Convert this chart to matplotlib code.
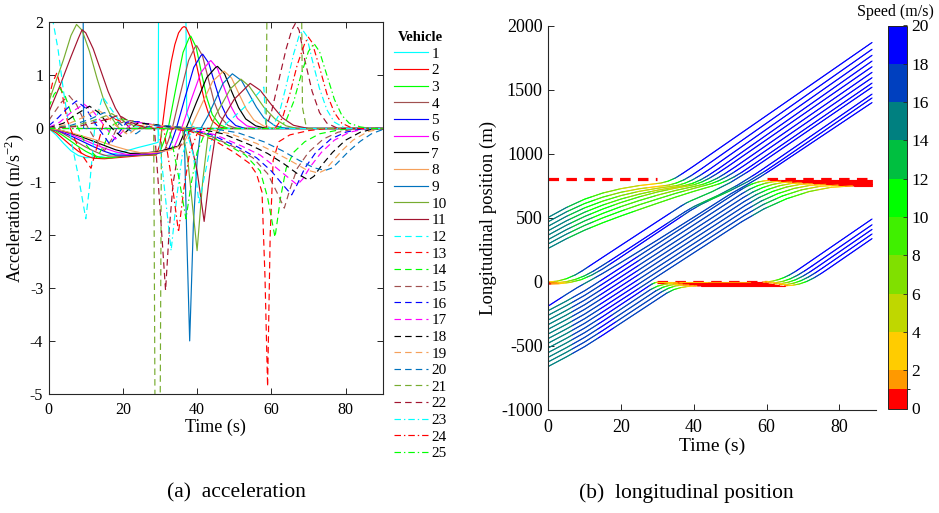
import numpy as np
import matplotlib
matplotlib.use("Agg")
import matplotlib.pyplot as plt
from matplotlib.collections import LineCollection
from matplotlib.colors import ListedColormap, BoundaryNorm
import matplotlib.colorbar as mcolorbar

plt.rcParams['font.family'] = ['Liberation Serif', 'DejaVu Serif']
plt.rcParams['mathtext.fontset'] = 'custom'
plt.rcParams['mathtext.rm'] = 'Liberation Serif'
plt.rcParams['axes.unicode_minus'] = False

# ---------------- (a) acceleration data: time (s) / acceleration (m/s^2) ----------------
a01_t = [0, 2, 4, 6, 8, 10, 13, 16, 20, 24, 28, 29.5, 29.6, 37.0, 37.2, 38.5, 40, 90]
a01_v = [0, -0.12, -0.28, -0.42, -0.51, -0.55, -0.54, -0.5, -0.44, -0.36, -0.29, -0.26, 2, 2, 0.3, 0.05, 0, 0]
a02_t = [0, 2, 4, 6, 8, 10, 12, 15, 20, 25, 29, 30, 31, 32, 33, 34, 35, 36, 36.5, 37, 38, 39, 40, 41, 42, 43, 44, 46, 48, 90]
a02_v = [0, -0.08, -0.2, -0.32, -0.43, -0.51, -0.56, -0.57, -0.54, -0.51, -0.5, -0.3, 0.25, 0.8, 1.25, 1.58, 1.8, 1.9, 1.92, 1.9, 1.75, 1.48, 1.15, 0.82, 0.52, 0.3, 0.15, 0.03, 0, 0]
a03_t = [0, 2, 4, 6, 8, 10, 12, 14, 17, 20, 25, 29, 30.2, 31.2, 32.2, 34.2, 36.2, 37.8, 38.3, 39.75, 41.2, 42.65, 44.1, 46.1, 48.5, 90]
a03_v = [0, -0.05, -0.14, -0.24, -0.34, -0.43, -0.5, -0.55, -0.55, -0.52, -0.5, -0.49, -0.4, -0.22, 0, 0.73, 1.43, 1.7, 1.74, 1.53, 1.04, 0.57, 0.26, 0.07, 0, 0]
a04_t = [0, 2, 4, 6, 8, 10, 12, 14, 16, 20, 25, 29, 31.3, 32.3, 33.3, 35.5, 37.7, 39.4, 39.9, 41.45, 43, 44.55, 46.1, 48.3, 50.75, 90]
a04_v = [0, -0.03, -0.1, -0.18, -0.27, -0.35, -0.42, -0.48, -0.52, -0.52, -0.5, -0.48, -0.4, -0.22, 0, 0.66, 1.28, 1.53, 1.56, 1.37, 0.94, 0.51, 0.23, 0.06, 0, 0]
a05_t = [0, 3, 6, 9, 12, 15, 18, 22, 26, 30, 32.4, 33.4, 34.4, 36.77, 39.1, 41, 41.5, 43.15, 44.8, 46.45, 48.1, 50.4, 53.05, 90]
a05_v = [0, -0.05, -0.14, -0.24, -0.34, -0.43, -0.5, -0.5, -0.48, -0.46, -0.38, -0.2, 0, 0.59, 1.15, 1.37, 1.4, 1.23, 0.84, 0.46, 0.21, 0.056, 0, 0]
a06_t = [0, 3, 6, 9, 12, 15, 18, 21, 25, 29, 33.8, 34.8, 35.8, 38.4, 41, 43.2, 43.7, 45.5, 47.3, 49.1, 50.9, 53.4, 56.3, 90]
a06_v = [0, -0.04, -0.11, -0.2, -0.29, -0.37, -0.44, -0.49, -0.48, -0.46, -0.36, -0.19, 0, 0.54, 1.05, 1.25, 1.28, 1.13, 0.77, 0.42, 0.19, 0.05, 0, 0]
a07_t = [0, 3, 6, 9, 12, 15, 18, 22, 26, 30, 35, 36, 37, 39.8, 42.6, 45, 45.5, 47.4, 49.3, 51.2, 53.1, 55.8, 58.8, 90]
a07_v = [0, -0.03, -0.09, -0.16, -0.24, -0.32, -0.4, -0.47, -0.46, -0.43, -0.33, -0.17, 0, 0.49, 0.96, 1.15, 1.17, 1.03, 0.7, 0.39, 0.18, 0.05, 0, 0]
a08_t = [0, 3, 6, 9, 12, 15, 18, 21, 25, 29, 33, 36.2, 37.2, 38.2, 41.2, 44.2, 46.8, 47.3, 49.3, 51.3, 53.3, 55.3, 58.1, 61.3, 90]
a08_v = [0, -0.03, -0.08, -0.14, -0.2, -0.27, -0.34, -0.4, -0.46, -0.45, -0.4, -0.3, -0.16, 0, 0.45, 0.89, 1.06, 1.08, 0.95, 0.65, 0.36, 0.16, 0.04, 0, 0]
a09_t = [0, 9.3, 9.4, 36.5, 37.2, 38, 39, 40, 41, 43, 45, 47, 49.5, 52, 54, 56, 58, 61, 64, 90]
a09_v = [2, 2, 0, 0, -2, -4, -1.8, -0.6, 0, 0.25, 0.55, 0.85, 1.03, 0.9, 0.65, 0.4, 0.2, 0.05, 0, 0]
a10_t = [0, 2, 4, 6, 7.5, 9, 11, 13, 15, 17, 19, 36, 37.5, 40, 41.5, 43, 45, 47, 49, 51.8, 54, 56, 58, 61, 64, 67, 90]
a10_v = [0.5, 0.9, 1.3, 1.75, 1.96, 1.85, 1.45, 0.95, 0.5, 0.2, 0, 0, -0.6, -2.3, -1.0, -0.1, 0.25, 0.5, 0.75, 0.93, 0.8, 0.6, 0.4, 0.18, 0.05, 0, 0]
a11_t = [0, 3, 6, 8, 9, 10, 12, 14, 16, 18, 20, 22, 37.5, 40, 41.9, 43.5, 45, 47, 50, 54.3, 57, 60, 63, 66, 70, 90]
a11_v = [0.3, 0.8, 1.35, 1.7, 1.86, 1.8, 1.5, 1.1, 0.7, 0.38, 0.15, 0, 0, -0.8, -1.75, -0.8, -0.1, 0.2, 0.55, 0.85, 0.72, 0.45, 0.2, 0.06, 0, 0]
a12_t = [0, 1.2, 2.5, 4, 6, 8, 10, 11, 12.5, 14.5, 16.5, 19, 23, 30, 37, 39, 40.5, 42, 44, 48, 52, 55, 58, 58.5, 60, 90]
a12_v = [2, 2, 1.5, 0.7, -0.2, -0.9, -1.7, -1.1, 0.1, 0.6, 0.4, 0.15, 0.05, 0, 0, -0.5, -1.4, -0.9, -0.2, 0.1, 0.35, 0.55, 0.78, 0.05, 0, 0]
a13_t = [0, 1, 2.2, 3.5, 5, 7, 9, 11.4, 13, 15, 17, 20, 25, 32, 38, 44, 50, 54, 56, 57.5, 58.3, 59, 59.7, 60.5, 62, 65, 70, 75, 90]
a13_v = [0.55, 0.85, 1.05, 0.7, 0.15, -0.2, -0.5, -0.75, -0.35, 0.15, 0.2, 0.12, 0.05, 0, -0.05, -0.2, -0.45, -0.65, -0.85, -1.2, -2.8, -4.86, -2.0, -0.6, -0.25, -0.12, -0.04, 0, 0]
a14_t = [0, 1.5, 3, 4.5, 6, 8, 10, 13, 15, 17, 20, 25, 35, 42, 48, 53, 57, 59, 61, 62.5, 64, 66, 69, 73, 78, 82, 90]
a14_v = [0.4, 0.65, 0.76, 0.6, 0.3, 0, -0.3, -0.55, -0.3, 0.05, 0.18, 0.1, 0, -0.1, -0.3, -0.5, -0.8, -1.3, -2.05, -1.3, -0.75, -0.45, -0.25, -0.1, -0.03, 0, 0]
a15_t = [0, 2, 3.5, 5.5, 7.5, 9.5, 12, 15, 17, 19, 22, 27, 36, 43, 50, 55, 59, 61.5, 63.5, 65, 67, 70, 74, 78, 83, 90]
a15_v = [0.15, 0.35, 0.5, 0.62, 0.45, 0.15, -0.15, -0.42, -0.2, 0.1, 0.15, 0.08, 0, -0.12, -0.35, -0.55, -0.85, -1.2, -1.5, -1.15, -0.75, -0.45, -0.2, -0.07, 0, 0]
a16_t = [0, 2.5, 5, 7.5, 10, 12.5, 14.5, 16.5, 18.5, 21, 24, 28, 37, 44, 51, 56, 60, 63, 65.5, 67, 69, 72, 76, 80, 85, 90]
a16_v = [0.05, 0.2, 0.38, 0.52, 0.38, 0.1, -0.1, -0.3, -0.12, 0.12, 0.13, 0.06, 0, -0.12, -0.35, -0.55, -0.8, -1.05, -1.25, -1.05, -0.75, -0.45, -0.2, -0.07, 0, 0]
a17_t = [0, 3, 6, 9.5, 12, 14.5, 16.5, 18, 20, 23, 26, 30, 38, 45, 52, 57, 61, 64.5, 67, 68.5, 70.5, 73.5, 77, 81, 86, 90]
a17_v = [0.02, 0.12, 0.3, 0.46, 0.32, 0.1, -0.08, -0.2, -0.05, 0.12, 0.1, 0.05, 0, -0.12, -0.33, -0.5, -0.72, -0.92, -1.06, -0.95, -0.72, -0.45, -0.22, -0.07, 0, 0]
a18_t = [0, 4, 7, 11, 13.5, 16, 18, 19.5, 21.5, 24, 28, 32, 40, 47, 54, 59, 63.5, 67, 70, 71.5, 73.5, 76.5, 80, 84, 88, 90]
a18_v = [0.01, 0.1, 0.25, 0.42, 0.3, 0.08, -0.06, -0.15, -0.02, 0.1, 0.08, 0.04, 0, -0.1, -0.3, -0.47, -0.67, -0.85, -0.97, -0.9, -0.7, -0.45, -0.22, -0.07, 0, 0]
a19_t = [0, 5, 9, 13, 15.5, 18, 20, 21.5, 23.5, 26, 30, 34, 42, 49, 56, 61, 65.5, 69.5, 72.7, 74.5, 76.5, 79, 82, 86, 90]
a19_v = [0, 0.08, 0.2, 0.36, 0.25, 0.06, -0.05, -0.12, 0, 0.08, 0.06, 0.03, 0, -0.1, -0.28, -0.45, -0.62, -0.78, -0.84, -0.78, -0.62, -0.42, -0.22, -0.06, 0]
a20_t = [0, 6, 11, 15, 17.5, 20, 22, 23.5, 25.5, 28, 32, 36, 44, 51, 58, 63, 67.5, 71.5, 74.5, 76.5, 78.5, 81, 84, 87, 90]
a20_v = [0, 0.06, 0.17, 0.3, 0.2, 0.04, -0.04, -0.1, 0, 0.06, 0.05, 0.02, 0, -0.08, -0.25, -0.42, -0.6, -0.74, -0.79, -0.74, -0.6, -0.42, -0.24, -0.1, -0.02]
a21_t = [0, 7, 12, 17, 20, 24, 28.3, 28.7, 30, 30.4, 58.6, 58.8, 68.2, 68.4, 69.5, 90]
a21_v = [0, 0.05, 0.15, 0.28, 0.15, 0.02, 0, -6, -6, 0, 0, 2, 2, 0.4, 0, 0]
a22_t = [0, 8, 13, 19, 22, 26, 28.5, 30, 31.5, 32.5, 33.5, 35, 37, 39, 58.5, 60, 62, 64, 65.5, 66.5, 67.5, 69, 71, 73, 75, 78, 90]
a22_v = [0, 0.04, 0.12, 0.25, 0.12, 0.02, 0, -1.5, -3.05, -1.9, -1.05, -0.4, -0.1, 0, 0, 0.3, 0.9, 1.5, 1.85, 1.98, 1.85, 1.3, 0.7, 0.3, 0.1, 0, 0]
a23_t = [0, 29.5, 31, 33, 34.5, 36, 38, 40, 60, 62, 64, 66, 67.5, 68.5, 69.5, 71, 73, 75, 77, 80, 90]
a23_v = [0, 0, -1.0, -2.3, -1.3, -0.5, -0.12, 0, 0, 0.25, 0.8, 1.4, 1.75, 1.85, 1.75, 1.3, 0.75, 0.35, 0.12, 0, 0]
a24_t = [0, 31, 33, 35, 36.5, 38, 40, 42, 61, 63, 65, 67, 69, 70, 71, 73, 75, 77, 79, 82, 90]
a24_v = [0, 0, -0.9, -1.95, -1.1, -0.45, -0.1, 0, 0, 0.2, 0.65, 1.2, 1.6, 1.72, 1.62, 1.15, 0.65, 0.3, 0.1, 0, 0]
a25_t = [0, 32.5, 35, 37, 38.5, 40, 42, 44, 62, 64, 66, 68, 70, 71.5, 73, 75, 77, 79, 81, 84, 87, 90]
a25_v = [0, 0, -0.9, -1.7, -1.0, -0.45, -0.1, 0, 0, 0.15, 0.5, 1.0, 1.45, 1.6, 1.45, 1.0, 0.55, 0.25, 0.1, 0.03, 0, 0]

# ---------------- (b) longitudinal position data: time (s) / position (m) ----------------
p01_t = [0, 5, 10, 15, 20, 25, 29, 31, 33, 35, 37, 40, 89]
p01_x = [504, 581, 646, 694, 728, 752, 765, 772, 787, 812, 848, 905, 1869]
p02_t = [0, 5, 10, 15, 20, 25, 30, 31.3, 33.3, 35.3, 37.3, 39.3, 42.3, 89]
p02_x = [470, 547, 612, 662, 700, 727, 745, 749, 757, 773, 797, 830, 887, 1816]
p03_t = [0, 5, 10, 15, 20, 25, 30, 33.6, 35.6, 37.6, 39.6, 41.6, 44.6, 89]
p03_x = [435, 512, 578, 631, 674, 707, 731, 745, 754, 771, 796, 829, 885, 1769]
p04_t = [0, 5, 10, 15, 20, 25, 30, 35.9, 37.9, 39.9, 41.9, 43.9, 46.9, 89]
p04_x = [400, 477, 544, 600, 647, 685, 716, 745, 755, 772, 797, 830, 886, 1724]
p05_t = [0, 5, 10, 15, 20, 25, 30, 35, 38.2, 40.2, 42.2, 44.2, 46.2, 49.2, 89]
p05_x = [366, 443, 511, 569, 620, 664, 702, 732, 748, 760, 780, 808, 842, 898, 1680]
p06_t = [0, 5, 10, 15, 20, 25, 30, 35, 40.5, 42.5, 44.5, 46.5, 48.5, 51.5, 89]
p06_x = [331, 408, 476, 535, 588, 635, 677, 714, 748, 762, 783, 810, 844, 900, 1636]
p07_t = [0, 5, 10, 15, 20, 25, 30, 35, 40, 42.8, 44.8, 46.8, 48.8, 50.8, 53.8, 89]
p07_x = [297, 373, 441, 500, 553, 602, 647, 691, 730, 751, 767, 789, 818, 852, 908, 1594]
p08_t = [0, 5, 10, 15, 20, 25, 30, 35, 40, 45.1, 47.1, 49.1, 51.1, 53.1, 56.1, 89]
p08_x = [262, 337, 404, 462, 515, 565, 614, 662, 707, 749, 767, 791, 820, 854, 911, 1552]
p09_t = [0, 2.5, 5, 7.5, 9.3, 15, 20, 30, 36.5, 38, 39.5, 41, 45, 50, 55, 60, 89]
p09_x = [0, 6, 25, 56, 86, 193, 286, 472, 592, 617, 637, 655, 704, 775, 862, 958, 1520]
p10_t = [0, 2.5, 5, 7.5, 10, 12.5, 17, 25, 37.5, 40, 43, 47, 52, 57, 62, 89]
p10_x = [-8, -6, 2, 20, 48, 86, 166, 314, 546, 588, 628, 680, 755, 843, 939, 1466]
p11_t = [0, 3, 6, 9, 12, 15, 19, 30, 39, 42, 45, 50, 55, 60, 65, 89]
p11_x = [-16, -14, -4, 17, 54, 102, 176, 385, 556, 605, 646, 712, 785, 872, 968, 1436]
p12_t = [0, 5, 8, 10, 12, 15, 20, 30, 40, 50, 55, 58, 62, 89]
p12_x = [-188, -97, -44, -12, 19, 67, 152, 327, 505, 685, 765, 815, 888, 1400]
p13_t = [0, 5, 10, 15, 52.85, 54.48, 56.11, 57.74, 59.37, 61, 89]
p13_x = [-224, -149, -69, 21, 717.8, 744.5, 765.3, 780.1, 789.0, 792, 792]
p14_t = [0, 5, 10, 15, 53.14, 55.31, 57.49, 59.66, 61.83, 64, 89]
p14_x = [-260, -185, -105, -15, 687.2, 722.8, 750.4, 770.2, 782.0, 786, 786]
p15_t = [0, 5, 10, 15, 53.55, 56.24, 58.93, 61.62, 64.31, 67, 89]
p15_x = [-297, -222, -142, -52, 657.6, 701.7, 735.9, 760.4, 775.1, 780, 780]
p16_t = [0, 5, 10, 15, 53.85, 57.08, 60.31, 63.54, 66.77, 70, 89]
p16_x = [-333, -258, -178, -88, 627, 679.9, 721.1, 750.5, 768.1, 774, 774]
p17_t = [0, 5, 10, 15, 54.14, 57.91, 61.68, 65.46, 69.23, 73, 89]
p17_x = [-369, -294, -214, -124, 596.4, 658.2, 706.2, 740.5, 761.1, 768, 768]
p18_t = [0, 5, 10, 15, 54.05, 58.54, 63.03, 67.52, 72.01, 76.5, 89]
p18_x = [-406, -331, -251, -161, 557.7, 631.2, 688.5, 729.3, 753.8, 762, 762]
p19_t = [0, 5, 10, 15, 53.85, 59.08, 64.31, 69.54, 74.77, 80, 89]
p19_x = [-442, -367, -287, -197, 518, 603.7, 670.3, 717.9, 746.5, 756, 756]
p20_t = [0, 5, 10, 15, 53.14, 59.31, 65.49, 71.66, 77.83, 84, 89]
p20_x = [-478, -403, -323, -233, 469.2, 570.3, 648.9, 705.1, 738.8, 750, 750]
p21_t = [0, 5, 10, 15, 27.6, 28.5, 29.3, 30, 58.8, 60.3, 61.8, 63.3, 64.8, 66.3, 68, 70, 89]
p21_x = [-515, -440, -360, -270, -33, -17, -6.5, -2, -2, 0.2, 7, 18.3, 34, 54.3, 82.6, 121, 491]
p22_t = [0, 5, 10, 15, 28, 30, 32, 34, 36, 60.5, 62.5, 64.5, 66.5, 68.5, 70.5, 72.5, 89]
p22_x = [-551, -476, -396, -306, -61.4, -33.4, -18.4, -11.4, -9, -9, -6, 4.5, 24, 52, 86.5, 124.5, 446]
p23_t = [0, 5, 10, 15, 29.5, 31.5, 33.5, 35.5, 37.5, 62, 64, 66, 68, 70, 72, 74, 89]
p23_x = [-588, -513, -433, -343, -71, -42, -25, -18, -16, -16, -13, -2.5, 17, 45, 79.5, 117.5, 410]
p24_t = [0, 5, 10, 15, 31, 33, 35, 37, 40, 63.5, 65.5, 67.5, 69.5, 71.5, 73.5, 75.5, 89]
p24_x = [-624, -549, -469, -379, -80, -50, -31, -25.5, -23, -23, -20, -9.5, 10, 38, 72.5, 110.5, 374]
p25_t = [0, 5, 10, 15, 32.5, 34.5, 36.5, 38.5, 40.5, 42, 65, 67, 69, 71, 73, 75, 77, 89]
p25_x = [-660, -585, -505, -415, -88.5, -60, -44, -35, -31, -30, -30, -27, -16.5, 3, 31, 65.5, 103.5, 338]

# red-signal stop lines: (start time, end time, position)
stop_t0 = [0, 30, 60]
stop_t1 = [30, 60, 89]
stop_pos = [800, 0, 800]

vehicle_labels = [str(i) for i in range(1, 26)]
speed_bounds = [0, 1, 2, 4, 6, 8, 10, 12, 14, 16, 18, 20]
speed_ticks = [0, 2, 4, 6, 8, 10, 12, 14, 16, 18, 20]

# ---------------- styles ----------------
base_colors = ['#00FFFF', '#FF0000', '#00FF00', '#A0504F', '#0000FF', '#FF00FF',
               '#000000', '#F5A05A', '#0072BD', '#77AC30', '#A2142F']
colors = base_colors + base_colors + base_colors[:3]
styles = ['-'] * 11 + [(0, (5.5, 3.5))] * 11 + [(0, (5.5, 2.5, 1.2, 2.5))] * 3
speed_colors = ['#FF0000', '#FF9900', '#FFCC00', '#BFD700', '#80E000', '#40F000',
                '#00FF00', '#00BF40', '#008080', '#0040BF', '#0000FF']

acc_t = [a01_t, a02_t, a03_t, a04_t, a05_t, a06_t, a07_t, a08_t, a09_t, a10_t, a11_t, a12_t, a13_t,
         a14_t, a15_t, a16_t, a17_t, a18_t, a19_t, a20_t, a21_t, a22_t, a23_t, a24_t, a25_t]
acc_v = [a01_v, a02_v, a03_v, a04_v, a05_v, a06_v, a07_v, a08_v, a09_v, a10_v, a11_v, a12_v, a13_v,
         a14_v, a15_v, a16_v, a17_v, a18_v, a19_v, a20_v, a21_v, a22_v, a23_v, a24_v, a25_v]
pos_t = [p01_t, p02_t, p03_t, p04_t, p05_t, p06_t, p07_t, p08_t, p09_t, p10_t, p11_t, p12_t, p13_t,
         p14_t, p15_t, p16_t, p17_t, p18_t, p19_t, p20_t, p21_t, p22_t, p23_t, p24_t, p25_t]
pos_x = [p01_x, p02_x, p03_x, p04_x, p05_x, p06_x, p07_x, p08_x, p09_x, p10_x, p11_x, p12_x, p13_x,
         p14_x, p15_x, p16_x, p17_x, p18_x, p19_x, p20_x, p21_x, p22_x, p23_x, p24_x, p25_x]

W, H = 939, 513
fig = plt.figure(figsize=(W / 100, H / 100), dpi=100)
axcol = '#262626'

def fx(px):
    return px / W

def fy(py):
    return 1 - py / H

# ---------------- panel (a) ----------------
ax1 = fig.add_axes([fx(48.7), fy(394), fx(382.6) - fx(48.7), fy(22.3) - fy(394)])
handles = []
for i in range(25):
    ln, = ax1.plot(acc_t[i], acc_v[i], color=colors[i], linestyle=styles[i], lw=0.85,
                   label=vehicle_labels[i])
    handles.append(ln)
ax1.set_xlim(0, 90)
ax1.set_ylim(-5, 2)
ax1.set_xticks([0, 20, 40, 60, 80])
ax1.set_yticks([-5, -4, -3, -2, -1, 0, 1, 2])
ax1.tick_params(direction='in', top=True, right=True, length=4, width=0.7,
                labelsize=11.5, colors=axcol, labelcolor='black')
ax1.tick_params(axis='x', pad=5.5)
ax1.tick_params(axis='y', pad=4)
for s in ax1.spines.values():
    s.set_color(axcol)
    s.set_linewidth(0.8)
ax1.set_xlabel('Time (s)', fontsize=13, labelpad=1)
ax1.set_ylabel('Acceleration (m/s$^{-2}$)', fontsize=13, labelpad=3)

leg = ax1.legend(handles=handles, loc='upper left', bbox_to_anchor=(fx(394), fy(31)),
                 bbox_transform=fig.transFigure, frameon=False, fontsize=11,
                 title='Vehicle', title_fontproperties={'weight': 'bold', 'size': 10.5},
                 handlelength=2.25, handletextpad=0.2, labelspacing=0.194,
                 borderpad=0, borderaxespad=0)

# ---------------- panel (b) ----------------
ax2 = fig.add_axes([fx(548.3), fy(410), fx(875.7) - fx(548.3), fy(25.7) - fy(410)])
cmap = ListedColormap(speed_colors)
norm = BoundaryNorm(speed_bounds, cmap.N)

for i in range(len(stop_pos)):
    ax2.plot([stop_t0[i], stop_t1[i]], [stop_pos[i], stop_pos[i]], color='#FF0000',
             lw=2.3, linestyle=(0, (3.3, 2.3)), zorder=1)

for i in range(25):
    T = np.asarray(pos_t[i], float)
    P = np.asarray(pos_x[i], float)
    vseg = np.diff(P) / np.diff(T)
    vnode = np.empty_like(T)
    vnode[0] = vseg[0]
    vnode[-1] = vseg[-1]
    vnode[1:-1] = 0.5 * (vseg[:-1] + vseg[1:])
    tt = np.union1d(np.arange(T[0], T[-1], 0.2), T)
    pp = np.interp(tt, T, P)
    mid = 0.5 * (tt[:-1] + tt[1:])
    vm = np.clip(np.interp(mid, T, vnode), 0, 19.99)
    segs = np.stack([np.column_stack([tt[:-1], pp[:-1]]), np.column_stack([tt[1:], pp[1:]])], axis=1)
    lc = LineCollection(segs, colors=cmap(norm(vm)), linewidths=0.8, zorder=2,
                        capstyle='round')
    ax2.add_collection(lc)

ax2.set_xlim(0, 90)
ax2.set_ylim(-1000, 2000)
ax2.set_xticks([0, 20, 40, 60, 80])
ax2.set_yticks([-1000, -500, 0, 500, 1000, 1500, 2000])
ax2.spines['top'].set_visible(False)
ax2.spines['right'].set_visible(False)
for s in ['left', 'bottom']:
    ax2.spines[s].set_color(axcol)
    ax2.spines[s].set_linewidth(0.8)
ax2.tick_params(direction='in', length=4, width=0.7, labelsize=13, colors=axcol,
                labelcolor='black')
ax2.tick_params(axis='x', pad=6.5)
ax2.tick_params(axis='y', pad=4)
ax2.set_xlabel('Time (s)', fontsize=14, labelpad=1)
ax2.set_ylabel('Longitudinal position (m)', fontsize=13.5, labelpad=3)

# colorbar
cax = fig.add_axes([fx(888.3), fy(408.5), fx(907.3) - fx(888.3), fy(25.5) - fy(408.5)])
cb = mcolorbar.ColorbarBase(cax, cmap=cmap, norm=norm, boundaries=speed_bounds,
                            spacing='proportional', ticks=speed_ticks, orientation='vertical')
cb.outline.set_edgecolor(axcol)
cb.outline.set_linewidth(0.7)
cax.tick_params(direction='in', length=3, width=0.6, labelsize=12.5, colors=axcol,
                labelcolor='black', pad=3)
fig.text(fx(895), fy(12), 'Speed (m/s)', ha='center', va='center', fontsize=11.5)

# captions
fig.text(fx(236), fy(493), '(a)  acceleration', ha='center', va='center', fontsize=15.5)
fig.text(fx(686), fy(493), '(b)  longitudinal position', ha='center', va='center', fontsize=15.5)

fig.savefig('out.png', dpi=100)
